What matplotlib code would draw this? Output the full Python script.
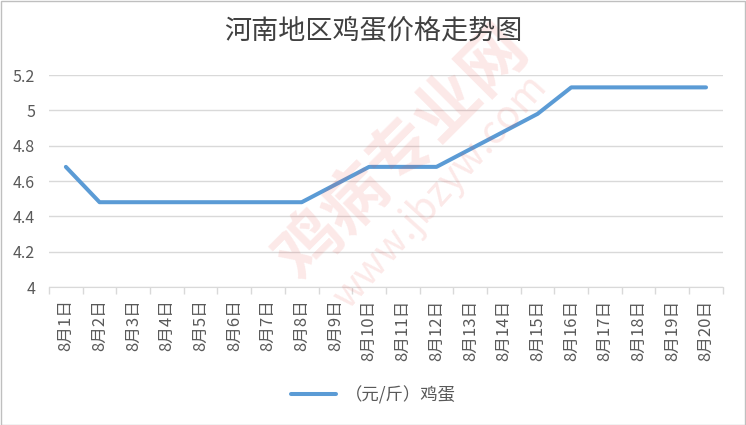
import numpy as np
import matplotlib
matplotlib.use('Agg')
import matplotlib.pyplot as plt
from matplotlib.patches import Rectangle

plt.rcParams['font.family'] = ['Noto Sans CJK SC', 'DejaVu Sans']

# data
dates = ['8月%d日' % d for d in range(1, 21)]
prices = [4.68, 4.48, 4.48, 4.48, 4.48, 4.48, 4.48, 4.48, 4.58, 4.68,
          4.68, 4.68, 4.78, 4.88, 4.98, 5.13, 5.13, 5.13, 5.13, 5.13]
series_name = '（元/斤）鸡蛋'
title = '河南地区鸡蛋价格走势图'

txt = '#595959'
grid_c = '#D9D9D9'

fig = plt.figure(figsize=(7.46, 4.25), dpi=100)
ax = fig.add_axes([0.0657, 0.3247, 0.9033, 0.4988])

# faint site watermark
fig.text(0.54, 0.64, '鸡病专业网', ha='center', va='center', rotation=45,
         fontsize=47, fontweight='bold', color='#E8504A', alpha=0.13, zorder=0)
fig.text(0.59, 0.55, 'www.jbzyw.com', ha='center', va='center', rotation=48,
         fontsize=28, color='#E8504A', alpha=0.13, zorder=0)

x = np.arange(len(dates))
ax.plot(x, prices, color='#5B9BD5', linewidth=2.9, solid_capstyle='round',
        solid_joinstyle='round', label=series_name, zorder=3)
ax.patch.set_alpha(0)

ax.set_xlim(-0.5, len(dates) - 0.5)
ax.set_ylim(4, 5.2)
ax.set_yticks(np.arange(4, 5.21, 0.2))
ax.set_yticklabels(['4', '4.2', '4.4', '4.6', '4.8', '5', '5.2'])
ax.yaxis.grid(True, color=grid_c, linewidth=1)
ax.set_axisbelow(True)

ax.set_xticks(x)
ax.set_xticklabels(dates, rotation=90)
ax.set_xticks(np.arange(-0.5, len(dates), 1), minor=True)
ax.tick_params(axis='x', which='major', length=0, pad=9, labelsize=12, labelcolor=txt)
ax.tick_params(axis='x', which='minor', length=5, color=grid_c, width=1)
ax.tick_params(axis='y', length=0, pad=10, labelsize=11.5, labelcolor=txt)

for s in ['top', 'right', 'left']:
    ax.spines[s].set_visible(False)
ax.spines['bottom'].set_color(grid_c)

fig.text(0.5, 0.928, title, ha='center', va='center', fontsize=19.5, color='#404040')

leg = fig.legend(loc='center', bbox_to_anchor=(0.5, 0.07), frameon=False,
                 fontsize=12.5, handlelength=2.6, handletextpad=0.5)
for t in leg.get_texts():
    t.set_color(txt)

fig.patches.append(Rectangle((0.001, 0.001), 0.997, 0.996, transform=fig.transFigure,
                             fill=False, edgecolor='#BFBFBF', linewidth=1))

fig.savefig('out.png', dpi=100)
